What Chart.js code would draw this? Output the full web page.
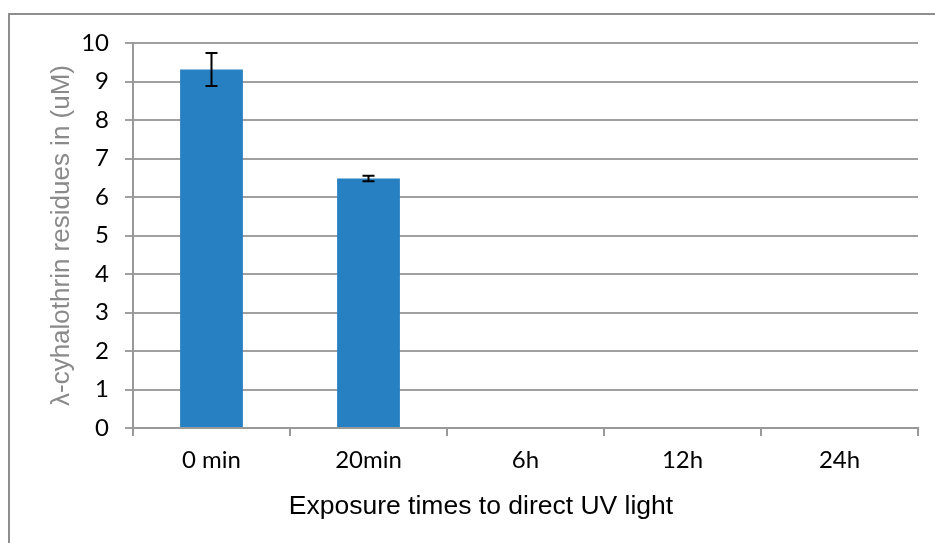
<!DOCTYPE html>
<html>
<head>
<meta charset="utf-8">
<script src="https://cdn.jsdelivr.net/npm/chart.js@4.4.0/dist/chart.umd.min.js"></script>
<style>
html,body{margin:0;padding:0;background:#fff;}
#wrap{position:relative;width:935px;height:543px;}
</style>
</head>
<body>
<div id="wrap"><canvas id="c" width="935" height="543"></canvas></div>
<script>
const categories = ["0 min", "20min", "6h", "12h", "24h"];
const residues = [9.31, 6.48, 0, 0, 0];
const errors = [0.43, 0.07, 0, 0, 0];
const yTicks = [0, 1, 2, 3, 4, 5, 6, 7, 8, 9, 10];
const yTitle = "λ-cyhalothrin residues in (uM)";
const xTitle = "Exposure times to direct UV light";

const frame = {
  id: 'frame',
  beforeDraw(chart) {
    const ctx = chart.ctx;
    ctx.save();
    ctx.fillStyle = '#fff';
    ctx.fillRect(0, 0, chart.width, chart.height);
    ctx.strokeStyle = '#8e8e8e';
    ctx.lineWidth = 2;
    ctx.strokeRect(9, 14, 1000, 1000);
    ctx.restore();
  },
  afterDraw(chart) {
    const ctx = chart.ctx;
    ctx.save();
    ctx.fillStyle = '#000';
    ctx.font = '26.5px "Liberation Sans"';
    ctx.textAlign = 'center';
    ctx.textBaseline = 'middle';
    ctx.fillText(xTitle, 481, 507);
    ctx.restore();
  }
};

const errorBars = {
  id: 'errorBars',
  afterDatasetsDraw(chart) {
    const ctx = chart.ctx;
    const meta = chart.getDatasetMeta(0);
    const y = chart.scales.y;
    ctx.save();
    ctx.strokeStyle = '#000';
    ctx.lineWidth = 2;
    meta.data.forEach((bar, i) => {
      const e = errors[i];
      if (!e) return;
      const v = residues[i];
      const yt = y.getPixelForValue(v + e);
      const yb = y.getPixelForValue(v - e);
      const x = bar.x;
      const cap = 6;
      ctx.beginPath();
      ctx.moveTo(x, yt); ctx.lineTo(x, yb);
      ctx.moveTo(x - cap, yt); ctx.lineTo(x + cap, yt);
      ctx.moveTo(x - cap, yb); ctx.lineTo(x + cap, yb);
      ctx.stroke();
    });
    ctx.restore();
  }
};

new Chart(document.getElementById('c'), {
  type: 'bar',
  data: {
    labels: categories,
    datasets: [{
      data: residues,
      backgroundColor: '#2780c2',
      borderWidth: 0,
      barPercentage: 0.4,
      categoryPercentage: 1
    }]
  },
  options: {
    responsive: false,
    animation: false,
    devicePixelRatio: 1,
    layout: { padding: { top: 43, right: 17, bottom: 0, left: 0 } },
    plugins: { legend: { display: false }, tooltip: { enabled: false } },
    scales: {
      x: {
        offset: true,
        grid: { display: true, drawOnChartArea: false, drawTicks: true, tickLength: 8, color: '#999', lineWidth: 2, offset: true },
        border: { display: true, color: '#999', width: 2 },
        ticks: { color: '#000', font: { family: 'Lato', size: 24 }, padding: 10, maxRotation: 0 },
        title: { display: false },
        afterFit(s) { s.height = 115; }
      },
      y: {
        min: 0, max: 10,
        afterBuildTicks(s) { s.ticks = yTicks.map(v => ({ value: v })); },
        grid: { color: '#a0a0a0', lineWidth: 2, tickLength: 8, drawTicks: true },
        border: { display: true, color: '#999', width: 2 },
        ticks: { color: '#000', font: { family: 'Lato', size: 24 }, padding: 16 },
        title: { display: true, text: yTitle, color: '#8a8a8a', font: { family: 'Liberation Sans', size: 26 }, padding: { top: 46, bottom: 0 } },
        afterFit(s) { s.width = 133; }
      }
    }
  },
  plugins: [frame, errorBars]
});
</script>
</body>
</html>
